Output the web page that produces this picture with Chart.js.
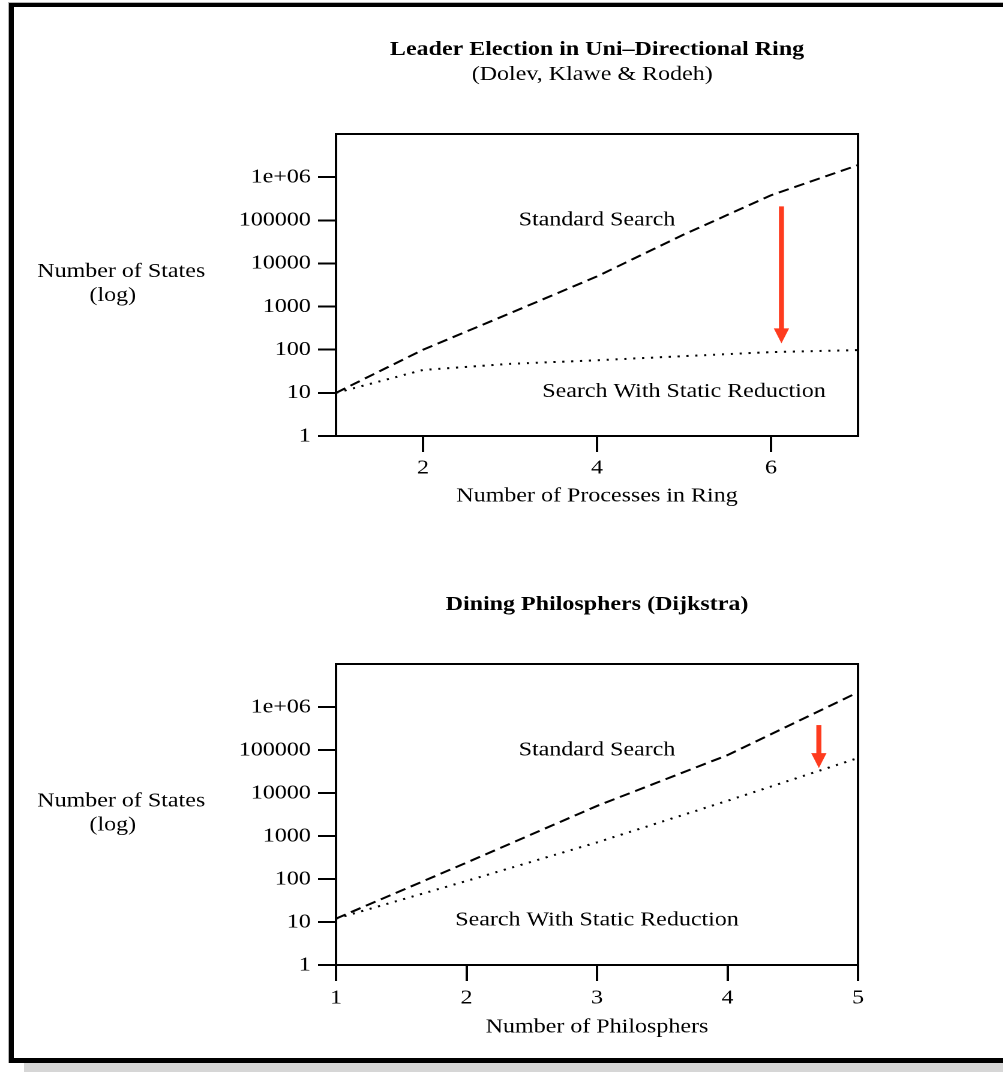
<html>

<head>
  <title>Static Reduction</title>
  <script src="https://cdn.jsdelivr.net/npm/chart.js@4.4.1/dist/chart.umd.min.js"></script>
  <style>
    body {
      margin: 0;
      width: 1003px;
      height: 1072px;
      background: #fff;
      position: relative;
      overflow: hidden;
    }

    /* Marco del escaneo */
    #edge {
      position: absolute;
      left: 8px;
      top: 2px;
      width: 1000px;
      height: 1060px;
      border-left: 1px solid #b4b4b4;
      border-top: 1px solid #b4b4b4;
    }

    #frame {
      position: absolute;
      left: 9px;
      top: 3px;
      width: 1000px;
      height: 1051px;
      border-left: 5px solid #000;
      border-top: 4px solid #000;
      border-bottom: 5px solid #000;
    }

    #shadow {
      position: absolute;
      left: 24px;
      top: 1063px;
      width: 979px;
      height: 9px;
      background: #d6d6d6;
    }

    /* the scan is stretched horizontally, so the canvases are too */
    canvas {
      position: absolute;
      left: 0;
      transform: scaleX(1.2);
      transform-origin: 0 0;
    }

    #ringChart { top: 0; }
    #philChart { top: 540px; }
  </style>
</head>

<body>
  <div id="edge"></div>
  <div id="frame"></div>
  <div id="shadow"></div>
  <canvas id="ringChart" width="836" height="540"></canvas>
  <canvas id="philChart" width="836" height="532"></canvas>

  <script>
    // Leader election in a uni-directional ring
    const ringProcs = [1, 2, 3, 4, 5, 6, 7];
    const ringStandard = [10, 100, 700, 5000, 47000, 380000, 1900000];
    const ringReduced = [10, 34, 47, 57, 71, 88, 98];
    const ringTicks = [2, 4, 6];

    // Dining philosophers
    const phils = [1, 2, 3, 4, 5];
    const philStandard = [12, 240, 5000, 76000, 2200000];
    const philReduced = [12, 90, 710, 6600, 65000];
    const philTicks = [1, 2, 3, 4, 5];

    const stateTicks = [1, 10, 100, 1000, 10000, 100000, 1000000];

    const serif = '"Liberation Serif", "Times New Roman", serif';
    const font = { family: serif, size: 20 };

    // titulos, etiqueta del eje y, textos y flechas rojas
    function decor(cfg) {
      return {
        id: 'decor',
        afterDraw(chart) {
          const { ctx, chartArea: a, scales: { x, y } } = chart;
          const mid = (a.left + a.right) / 2;
          const midY = (a.top + a.bottom) / 2;
          ctx.save();
          ctx.strokeStyle = '#000';
          ctx.lineWidth = 2;
          ctx.strokeRect(a.left, a.top, a.right - a.left, a.bottom - a.top);

          ctx.fillStyle = '#000';
          ctx.textAlign = 'center';
          ctx.textBaseline = 'alphabetic';
          ctx.font = 'bold 20px ' + serif;
          ctx.fillText(cfg.title, mid, a.top + cfg.titleDy);
          ctx.font = '20px ' + serif;
          if (cfg.subtitle) ctx.fillText(cfg.subtitle, mid - 4, a.top - 54);
          ctx.fillText('Number of States', a.left - 179, midY - 8);
          ctx.fillText('(log)', a.left - 186, midY + 16);

          ctx.textBaseline = 'middle';
          cfg.notes.forEach(n => {
            ctx.fillText(n.text, x.getPixelForValue(n.x), y.getPixelForValue(n.y));
          });

          ctx.fillStyle = '#fe3b1e';
          ctx.strokeStyle = '#fe3b1e';
          const ax = x.getPixelForValue(cfg.arrow.x);
          const y0 = y.getPixelForValue(cfg.arrow.from);
          const y1 = y.getPixelForValue(cfg.arrow.to);
          ctx.lineWidth = 4.2;
          ctx.beginPath();
          ctx.moveTo(ax, y0);
          ctx.lineTo(ax, y1 - 12);
          ctx.stroke();
          ctx.beginPath();
          ctx.moveTo(ax - 6.4, y1 - 15);
          ctx.lineTo(ax + 6.4, y1 - 15);
          ctx.lineTo(ax, y1);
          ctx.closePath();
          ctx.fill();
          ctx.restore();
        }
      };
    }

    function build(id, cfg) {
      const cv = document.getElementById(id);
      const W = cv.width, H = cv.height;
      return new Chart(cv, {
        type: 'line',
        data: {
          datasets: [{
            data: cfg.xs.map((v, i) => ({ x: v, y: cfg.std[i] })),
            borderColor: '#000',
            borderWidth: 2,
            borderDash: [9, 5],
            pointRadius: 0,
            tension: 0
          }, {
            data: cfg.xs.map((v, i) => ({ x: v, y: cfg.red[i] })),
            borderColor: '#000',
            borderWidth: 2,
            borderDash: [1.8, 5.6],
            pointRadius: 0,
            tension: 0
          }]
        },
        options: {
          responsive: false,
          animation: false,
          devicePixelRatio: 2,
          layout: { padding: { left: 0, right: W - 715, top: cfg.top, bottom: 0 } },
          plugins: {
            legend: { display: false },
            tooltip: { enabled: false }
          },
          scales: {
            x: {
              type: 'linear',
              min: cfg.xs[0],
              max: cfg.xs[cfg.xs.length - 1],
              afterBuildTicks: axis => { axis.ticks = cfg.xTicks.map(v => ({ value: v })); },
              afterFit: axis => { axis.height = H - cfg.bottom; },
              grid: { drawOnChartArea: false, color: '#000', lineWidth: 2, tickLength: 16 },
              border: { display: false },
              ticks: { color: '#000', font: font, padding: cfg.tickPad, maxRotation: 0, autoSkip: false },
              title: { display: true, text: cfg.xTitle, color: '#000', font: font, padding: { top: 0, bottom: cfg.titlePad } }
            },
            y: {
              type: 'logarithmic',
              min: 1,
              max: 1e7,
              afterBuildTicks: axis => { axis.ticks = stateTicks.map(v => ({ value: v })); },
              afterFit: axis => { axis.width = 280; },
              grid: { drawOnChartArea: false, color: '#000', lineWidth: 2, tickLength: 15 },
              border: { display: false },
              ticks: {
                color: '#000',
                font: font,
                padding: 6,
                autoSkip: false,
                callback: v => v === 1e6 ? '1e+06' : String(v)
              }
            }
          }
        },
        plugins: [decor(cfg)]
      });
    }

    build('ringChart', {
      xs: ringProcs, std: ringStandard, red: ringReduced, xTicks: ringTicks,
      top: 134, bottom: 436, tickPad: 4, titlePad: 32,
      xTitle: 'Number of Processes in Ring',
      title: 'Leader Election in Uni\u2013Directional Ring', titleDy: -79,
      subtitle: '(Dolev, Klawe & Rodeh)',
      notes: [
        { text: 'Standard Search', x: 4, y: 100000 },
        { text: 'Search With Static Reduction', x: 5, y: 10.5 }
      ],
      arrow: { x: 6.12, from: 210000, to: 140 }
    });

    build('philChart', {
      xs: phils, std: philStandard, red: philReduced, xTicks: philTicks,
      top: 124, bottom: 425, tickPad: 5, titlePad: 33,
      xTitle: 'Number of Philosphers',
      title: 'Dining Philosphers (Dijkstra)', titleDy: -54,
      notes: [
        { text: 'Standard Search', x: 3, y: 100000 },
        { text: 'Search With Static Reduction', x: 3, y: 11 }
      ],
      arrow: { x: 4.7, from: 380000, to: 38000 }
    });
  </script>
</body>

</html>
